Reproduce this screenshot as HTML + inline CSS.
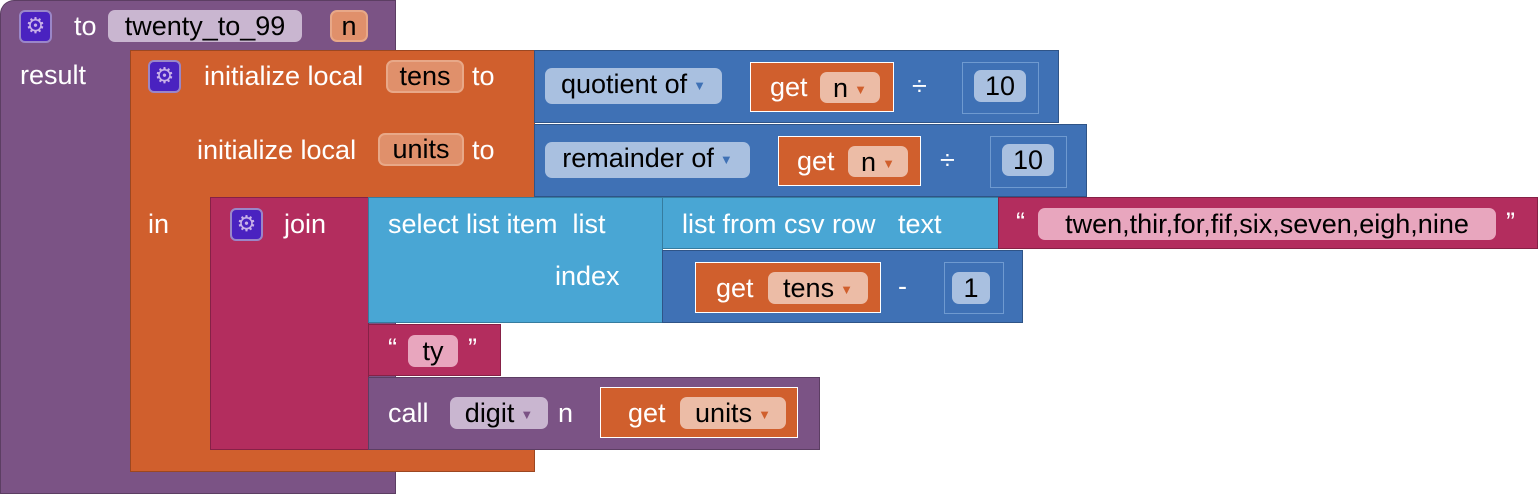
<!DOCTYPE html>
<html><head><style>
body{margin:0;width:1538px;height:494px;background:#fff;position:relative;overflow:hidden;font-family:"Liberation Sans",sans-serif;}
div{position:absolute;box-sizing:border-box;}
.b{border:1px solid rgba(0,0,0,0.25);}
.t{color:#fff;font-size:27px;line-height:32px;white-space:nowrap;}
.f{border-radius:7px;color:#000;font-size:27px;line-height:32px;text-align:center;white-space:nowrap;}
.g{width:33px;height:33px;border-radius:6px;background:#4a22c0;border:2px solid #9a86c8;color:#c8b0e8;font-size:22px;line-height:28px;text-align:center;}
.pur{background:#7b5385}.or{background:#d05f2d}.bl{background:#3f71b5}.mg{background:#b32d5e}.lb{background:#49a6d4}
.dd{font-size:13px;vertical-align:middle;margin-left:6px;}
</style></head><body>
<!-- procedure -->
<div class="pur" style="left:0;top:0;width:396px;height:494px;border-radius:14px 0 0 0;border:1px solid rgba(0,0,0,0.25);"></div>
<div class="g" style="left:19px;top:10px;">⚙</div>
<div class="t" style="left:74px;top:10px;">to</div>
<div class="f" style="left:108px;top:10px;width:194px;height:32px;background:#c9b6d0;">twenty_to_99</div>
<div class="f" style="left:330px;top:10px;width:38px;height:32px;background:#e0906b;border:2px solid #e8a888;line-height:28px;">n</div>
<div class="t" style="left:20px;top:59px;">result</div>
<!-- orange local -->
<div class="or b" style="left:130px;top:50px;width:405px;height:148px;border-bottom:none;"></div>
<div class="or b" style="left:130px;top:196px;width:82px;height:276px;border-top:none;border-right:none;"></div>
<div class="or b" style="left:130px;top:449px;width:405px;height:23px;border-top:none;"></div>
<div class="g" style="left:148px;top:60px;">⚙</div>
<div class="t" style="left:204px;top:60px;">initialize local</div>
<div class="f" style="left:386px;top:60px;width:78px;height:33px;background:#e0906b;border:2px solid #e8a888;line-height:29px;">tens</div>
<div class="t" style="left:472px;top:60px;">to</div>
<div class="t" style="left:197px;top:134px;">initialize local</div>
<div class="f" style="left:378px;top:133px;width:86px;height:33px;background:#e0906b;border:2px solid #e8a888;line-height:29px;">units</div>
<div class="t" style="left:472px;top:134px;">to</div>
<div class="t" style="left:148px;top:208px;">in</div>
<!-- quotient -->
<div class="bl b" style="left:534px;top:50px;width:525px;height:73px;"></div>
<div class="f" style="left:545px;top:68px;width:177px;height:36px;background:#a9c0e0;">quotient of<span class="dd" style="color:#3f71b5">▼</span></div>
<div class="or b" style="left:750px;top:62px;width:144px;height:50px;border-color:#fff;"></div>
<div class="t" style="left:770px;top:71px;">get</div>
<div class="f" style="left:820px;top:72px;width:60px;height:31px;background:#ecbca6;">n<span class="dd" style="color:#d05f2d">▼</span></div>
<div class="t" style="left:912px;top:70px;">÷</div>
<div class="bl" style="left:962px;top:62px;width:77px;height:52px;border:1px solid #6f9ad0;"></div>
<div class="f" style="left:974px;top:70px;width:52px;height:32px;background:#a9c0e0;">10</div>
<!-- remainder -->
<div class="bl b" style="left:534px;top:124px;width:553px;height:73px;"></div>
<div class="f" style="left:545px;top:142px;width:205px;height:36px;background:#a9c0e0;">remainder of<span class="dd" style="color:#3f71b5">▼</span></div>
<div class="or b" style="left:778px;top:136px;width:143px;height:50px;border-color:#fff;"></div>
<div class="t" style="left:797px;top:145px;">get</div>
<div class="f" style="left:848px;top:146px;width:60px;height:31px;background:#ecbca6;">n<span class="dd" style="color:#d05f2d">▼</span></div>
<div class="t" style="left:940px;top:144px;">÷</div>
<div class="bl" style="left:990px;top:136px;width:77px;height:52px;border:1px solid #6f9ad0;"></div>
<div class="f" style="left:1002px;top:144px;width:52px;height:32px;background:#a9c0e0;">10</div>
<!-- join -->
<div class="mg b" style="left:210px;top:197px;width:159px;height:253px;"></div>
<div class="g" style="left:230px;top:208px;">⚙</div>
<div class="t" style="left:284px;top:208px;">join</div>
<!-- select -->
<div class="lb b" style="left:368px;top:197px;width:295px;height:126px;"></div>
<div class="t" style="left:388px;top:208px;">select list item&nbsp; list</div>
<div class="t" style="left:555px;top:260px;">index</div>
<div class="lb b" style="left:662px;top:197px;width:337px;height:52px;"></div>
<div class="t" style="left:682px;top:208px;">list from csv row&nbsp;&nbsp; text</div>
<div class="mg b" style="left:998px;top:197px;width:540px;height:52px;"></div>
<div class="t" style="left:1016px;top:206px;">“</div>
<div class="f" style="left:1038px;top:208px;width:458px;height:32px;background:#e8a6be;">twen,thir,for,fif,six,seven,eigh,nine</div>
<div class="t" style="left:1506px;top:206px;">”</div>
<!-- minus -->
<div class="bl b" style="left:662px;top:250px;width:361px;height:73px;"></div>
<div class="or b" style="left:695px;top:262px;width:186px;height:51px;border-color:#fff;"></div>
<div class="t" style="left:716px;top:272px;">get</div>
<div class="f" style="left:768px;top:272px;width:100px;height:32px;background:#ecbca6;">tens<span class="dd" style="color:#d05f2d">▼</span></div>
<div class="t" style="left:898px;top:270px;">-</div>
<div class="bl" style="left:944px;top:262px;width:60px;height:52px;border:1px solid #6f9ad0;"></div>
<div class="f" style="left:952px;top:272px;width:38px;height:32px;background:#a9c0e0;">1</div>
<!-- ty -->
<div class="mg b" style="left:368px;top:324px;width:133px;height:52px;"></div>
<div class="t" style="left:388px;top:332px;">“</div>
<div class="f" style="left:408px;top:335px;width:50px;height:32px;background:#e8a6be;">ty</div>
<div class="t" style="left:468px;top:332px;">”</div>
<!-- call -->
<div class="pur b" style="left:368px;top:377px;width:452px;height:73px;"></div>
<div class="t" style="left:388px;top:397px;">call</div>
<div class="f" style="left:450px;top:397px;width:98px;height:32px;background:#c9b6d0;">digit<span class="dd" style="color:#7b5385">▼</span></div>
<div class="t" style="left:558px;top:397px;">n</div>
<div class="or b" style="left:600px;top:387px;width:198px;height:51px;border-color:#fff;"></div>
<div class="t" style="left:628px;top:397px;">get</div>
<div class="f" style="left:680px;top:397px;width:106px;height:32px;background:#ecbca6;">units<span class="dd" style="color:#d05f2d">▼</span></div>
</body></html>
